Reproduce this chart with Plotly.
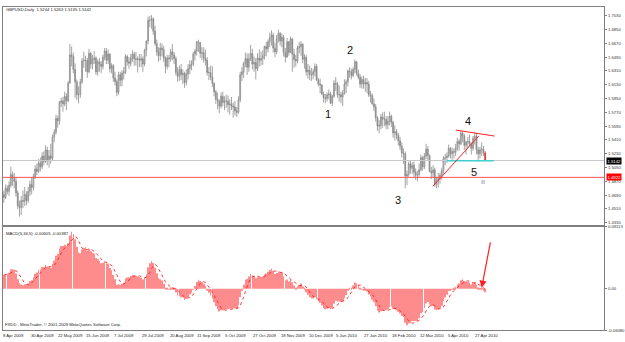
import numpy as np
import plotly.graph_objects as go

# ---------------- data (GBPUSD daily, 8 Apr 2009 .. 4 May 2010) ----------------
first_open = 1.470
highs = [
 1.475,1.483,1.482, 1.487,1.506,1.500,1.498,1.492, 1.475,1.462,1.468,1.475,1.480,
 1.474,1.480,1.488,1.492,1.497, 1.508,1.510,1.516,1.518,1.525, 1.526,1.534,1.532,1.528,1.536,
 1.548,1.555,1.574,1.573,1.592, 1.596,1.597,1.604,1.602,1.618, 1.666,1.663,1.655,1.641,1.620,
 1.611,1.621,1.648,1.656,1.651, 1.648,1.660,1.656,1.652,1.657, 1.650,1.646,1.648,1.644,1.652,
 1.661,1.661,1.659,1.654,1.641, 1.640,1.630,1.620,1.630,1.630, 1.632,1.636,1.653,1.652,1.649,
 1.653,1.658,1.656,1.656,1.650, 1.653,1.653,1.650,1.660,1.671, 1.702,1.703,1.704,1.701,1.690,
 1.672,1.662,1.668,1.667,1.664, 1.650,1.652,1.652,1.660,1.666, 1.656,1.650,1.636,1.638,1.640,
 1.633,1.630,1.633,1.640,1.645, 1.645,1.656,1.660,1.670,1.672, 1.667,1.662,1.662,1.659,1.649,
 1.636,1.638,1.637,1.616,1.606, 1.603,1.594,1.603,1.604,1.598, 1.600,1.599,1.594,1.597,1.590,
 1.592,1.584,1.598,1.630,1.636, 1.643,1.655,1.654,1.654,1.665, 1.660,1.650,1.648,1.654,1.659,
 1.656,1.658,1.664,1.669,1.672, 1.681,1.684,1.681,1.668,1.678, 1.685,1.682,1.680,1.678,1.661,
 1.674,1.670,1.676,1.666,1.660, 1.652,1.664,1.669,1.670,1.667, 1.653,1.652,1.640,1.638,1.635,
 1.634,1.641,1.640,1.622,1.621, 1.613,1.604,1.601,1.603, 1.607,1.604,1.600,1.619,
 1.623,1.617,1.612,1.604,1.606, 1.620,1.620,1.633,1.636,1.634, 1.636,1.646,1.644,1.633,1.627,
 1.624,1.625,1.622,1.622,1.618, 1.605,1.602,1.595,1.588,1.572, 1.567,1.575,1.577,1.578,1.572,
 1.572,1.578,1.574,1.566,1.560, 1.555,1.550,1.545,1.538,1.530, 1.526,1.501,1.513,1.514,1.512,
 1.513,1.504,1.501,1.510,1.522, 1.520,1.524,1.536,1.533,1.522, 1.506,1.508,1.505,1.493,1.498,
 1.498,1.505,1.520,1.523,1.525, 1.535,1.532,1.531,1.530,1.536, 1.544,1.542,1.553,1.552,1.549,
 1.540,1.545,1.548,1.538,1.546, 1.550,1.550,1.532,1.532,1.538, 1.533,1.5263]
lows = [
 1.459,1.464,1.470, 1.468,1.479,1.481,1.478,1.467, 1.451,1.441,1.443,1.452,1.455,
 1.456,1.459,1.468,1.470,1.475, 1.490,1.495,1.498,1.500,1.503, 1.508,1.511,1.508,1.505,1.510,
 1.514,1.538,1.548,1.557,1.561, 1.584,1.578,1.585,1.580,1.590, 1.615,1.637,1.628,1.596,1.593,
 1.589,1.596,1.614,1.635,1.630, 1.622,1.628,1.634,1.633,1.640, 1.626,1.625,1.630,1.628,1.633,
 1.645,1.640,1.640,1.629,1.628, 1.617,1.612,1.598,1.600,1.611, 1.611,1.620,1.627,1.638,1.634,
 1.637,1.643,1.638,1.638,1.629, 1.636,1.636,1.630,1.637,1.650, 1.666,1.688,1.686,1.678,1.664,
 1.651,1.643,1.645,1.650,1.643, 1.628,1.633,1.636,1.643,1.645, 1.640,1.625,1.617,1.618,1.619,
 1.614,1.609,1.612,1.620,1.627, 1.632,1.637,1.645,1.651,1.656, 1.648,1.645,1.642,1.638,1.625,
 1.619,1.619,1.610,1.598,1.588, 1.581,1.576,1.582,1.585,1.580, 1.583,1.577,1.574,1.580,1.570,
 1.573,1.571,1.575,1.590,1.618, 1.622,1.636,1.626,1.630,1.644, 1.633,1.630,1.620,1.631,1.637,
 1.638,1.639,1.646,1.650,1.655, 1.662,1.664,1.655,1.649,1.653, 1.668,1.664,1.662,1.650,1.642,
 1.650,1.651,1.655,1.630,1.635, 1.637,1.641,1.654,1.651,1.641, 1.634,1.625,1.621,1.619,1.618,
 1.620,1.624,1.618,1.611,1.602, 1.600,1.590,1.589,1.591, 1.594,1.588,1.585,1.596,
 1.605,1.596,1.591,1.589,1.585, 1.600,1.602,1.611,1.622,1.620, 1.623,1.628,1.625,1.620,1.609,
 1.608,1.608,1.604,1.602,1.597, 1.590,1.587,1.579,1.565,1.553, 1.550,1.555,1.557,1.559,1.555,
 1.555,1.560,1.558,1.544,1.540, 1.542,1.534,1.528,1.518,1.510, 1.478,1.482,1.493,1.497,1.497,
 1.493,1.489,1.487,1.493,1.500, 1.501,1.503,1.516,1.514,1.499, 1.490,1.492,1.480,1.478,1.479,
 1.484,1.489,1.497,1.508,1.511, 1.518,1.517,1.515,1.517,1.520, 1.527,1.527,1.534,1.538,1.528,
 1.522,1.530,1.533,1.522,1.527, 1.535,1.522,1.513,1.517,1.520, 1.520,1.5135]
closes = [
 1.466,1.478,1.474, 1.482,1.496,1.491,1.487,1.472, 1.455,1.453,1.462,1.461,1.470,
 1.462,1.474,1.483,1.479,1.493, 1.503,1.500,1.511,1.506,1.520, 1.513,1.528,1.514,1.520,1.517,
 1.545,1.551,1.569,1.566,1.590, 1.592,1.588,1.598,1.592,1.615, 1.652,1.650,1.633,1.617,1.600,
 1.600,1.617,1.644,1.645,1.645, 1.630,1.654,1.640,1.646,1.648, 1.630,1.643,1.640,1.637,1.649,
 1.657,1.645,1.653,1.634,1.638, 1.622,1.617,1.603,1.626,1.619, 1.628,1.630,1.650,1.643,1.641,
 1.648,1.653,1.647,1.646,1.647, 1.645,1.647,1.640,1.658,1.670, 1.697,1.697,1.699,1.683,1.667,
 1.656,1.651,1.661,1.659,1.648, 1.637,1.648,1.647,1.656,1.652, 1.647,1.629,1.624,1.633,1.626,
 1.628,1.616,1.627,1.634,1.639, 1.640,1.653,1.657,1.669,1.668, 1.654,1.655,1.648,1.645,1.629,
 1.629,1.623,1.615,1.604,1.594, 1.592,1.585,1.598,1.590,1.592, 1.592,1.587,1.588,1.585,1.584,
 1.579,1.577,1.593,1.626,1.630, 1.641,1.647,1.636,1.647,1.654, 1.640,1.642,1.634,1.648,1.645,
 1.647,1.651,1.663,1.660,1.669, 1.674,1.678,1.661,1.656,1.673, 1.680,1.670,1.675,1.655,1.649,
 1.669,1.655,1.673,1.653,1.646, 1.644,1.661,1.663,1.666,1.646, 1.649,1.630,1.632,1.626,1.626,
 1.630,1.637,1.619,1.614,1.613, 1.601,1.596,1.595,1.600, 1.601,1.589,1.598,1.615,
 1.614,1.600,1.600,1.597,1.602, 1.614,1.617,1.631,1.630,1.625, 1.633,1.643,1.628,1.623,1.614,
 1.620,1.614,1.616,1.614,1.600, 1.599,1.588,1.584,1.570,1.559, 1.560,1.571,1.568,1.568,1.561,
 1.565,1.572,1.564,1.550,1.552, 1.547,1.540,1.533,1.524,1.523, 1.494,1.496,1.510,1.504,1.508,
 1.499,1.495,1.496,1.502,1.518, 1.506,1.520,1.529,1.521,1.500, 1.498,1.502,1.483,1.488,1.491,
 1.495,1.501,1.517,1.518,1.520, 1.530,1.523,1.526,1.525,1.530, 1.539,1.536,1.550,1.546,1.534,
 1.538,1.539,1.536,1.530,1.543, 1.546,1.528,1.523,1.528,1.529, 1.524,1.5142]
# closes before 8 Apr 2009 (only used to warm up the MACD)
pre_closes = [1.478,1.440,1.447,1.447,1.440, 1.433,1.425,1.424,1.432,1.444,
              1.427,1.446,1.438,1.430,1.433, 1.409,1.411,1.418,1.409,1.406,
              1.386,1.382,1.379,1.392,1.405, 1.415,1.398,1.430,1.458,1.453,
              1.464,1.468,1.469,1.465,1.432, 1.423,1.431,1.453,1.480,1.474,
              1.476,1.466]
date_labels = ["8 Apr 2009","30 Apr 2009","22 May 2009","15 Jun 2009","7 Jul 2009",
               "29 Jul 2009","20 Aug 2009","11 Sep 2009","5 Oct 2009","27 Oct 2009",
               "18 Nov 2009","10 Dec 2009","5 Jan 2010","27 Jan 2010","18 Feb 2010",
               "12 Mar 2010","5 Apr 2010","27 Apr 2010"]
price_ticks = [1.7030,1.6850,1.6670,1.6490,1.6310,1.6130,1.5950,1.5770,1.5590,
               1.5410,1.5230,1.5050,1.4870,1.4690,1.4510,1.4330]
current_price = 1.5142
red_level = 1.4922
macd_fast, macd_slow, macd_sig = 5, 34, 5
macd_top, macd_bottom = 0.09113, -0.06080

# ---------------- derived ----------------
n = len(closes)
idx = np.arange(n)
opens = [first_open] + closes[:-1]

allc = np.array(pre_closes + closes)
def ema(a, p):
    k = 2.0 / (p + 1)
    out = np.empty_like(a)
    out[0] = a[0]
    for j in range(1, len(a)):
        out[j] = a[j] * k + out[j - 1] * (1 - k)
    return out
macd_all = ema(allc, macd_fast) - ema(allc, macd_slow)
sig_all = np.convolve(macd_all, np.ones(macd_sig) / macd_sig, mode="full")[:len(macd_all)]
macd = macd_all[len(pre_closes):]
signal = sig_all[len(pre_closes):]

W, H = 625, 342
def px(v): return v / W
def py(v): return 1 - v / H

XL, XR = 3, 607
MAIN_T, MAIN_B = 4, 225
MACD_T, MACD_B = 227, 332
bar_w = 1.746
x_lo = -0.5
x_hi = x_lo + (XR - XL) / bar_w
y_scale = 777.8  # px per price unit
p_top = 1.7030 + (13 - MAIN_T) / y_scale
p_bot = 1.7030 - (MAIN_B - 13) / y_scale

FONT = "Liberation Sans"
axcol = "#7f7f7f"

fig = go.Figure()
fig.add_trace(go.Candlestick(
    x=idx[:-1], open=opens[:-1], high=highs[:-1], low=lows[:-1], close=closes[:-1],
    increasing=dict(line=dict(color="#8c8c8c", width=0.8), fillcolor="#d0d0d0"),
    decreasing=dict(line=dict(color="#8c8c8c", width=0.8), fillcolor="#808080"),
    whiskerwidth=0, xaxis="x", yaxis="y", showlegend=False, hoverinfo="skip"))
fig.add_trace(go.Candlestick(
    x=idx[-1:], open=opens[-1:], high=highs[-1:], low=lows[-1:], close=closes[-1:],
    increasing=dict(line=dict(color="#e03030", width=0.8), fillcolor="#e03030"),
    decreasing=dict(line=dict(color="#e03030", width=0.8), fillcolor="#e03030"),
    whiskerwidth=0, xaxis="x", yaxis="y", showlegend=False, hoverinfo="skip"))

fig.add_trace(go.Bar(x=idx, y=macd, marker=dict(color="#ff8c8c", line=dict(width=0)),
                     width=0.4, xaxis="x2", yaxis="y2", showlegend=False, hoverinfo="skip"))
fig.add_trace(go.Scatter(x=idx, y=signal, mode="lines",
                         line=dict(color="#ff2020", width=0.9, dash="dot"),
                         xaxis="x2", yaxis="y2", showlegend=False, hoverinfo="skip"))

common_x = dict(range=[x_lo, x_hi], showgrid=False, zeroline=False, showticklabels=False,
                showline=True, mirror=True, linecolor=axcol, linewidth=1, ticks="")
fig.update_layout(
    width=W, height=H, margin=dict(l=0, r=0, t=0, b=0),
    paper_bgcolor="white", plot_bgcolor="white",
    font=dict(family=FONT, size=4, color="#333333"),
    xaxis=dict(domain=[px(XL), px(XR)], anchor="y", rangeslider=dict(visible=False), **common_x),
    xaxis2=dict(domain=[px(XL), px(XR)], anchor="y2", **common_x),
    yaxis=dict(domain=[py(MAIN_B), py(MAIN_T)], range=[p_bot, p_top], side="right",
               tickvals=price_ticks, ticktext=[f"{v:.4f}" for v in price_ticks],
               ticks="outside", ticklen=2, tickcolor=axcol, tickfont=dict(size=4.2, color="#333"),
               showgrid=False, zeroline=False, showline=True, mirror=True, linecolor=axcol),
    yaxis2=dict(domain=[py(MACD_B), py(MACD_T)], range=[macd_bottom, macd_top], side="right",
                tickvals=[macd_top, 0, macd_bottom],
                ticktext=[f"{macd_top:.5f}", "0.00", f"{macd_bottom:.5f}"],
                ticks="outside", ticklen=2, tickcolor=axcol, tickfont=dict(size=4.2, color="#333"),
                showgrid=False, zeroline=False, showline=True, mirror=True, linecolor=axcol),
)

shapes = []
# horizontal levels
shapes.append(dict(type="line", xref="paper", yref="y", x0=px(XL), x1=px(XR),
                   y0=current_price, y1=current_price, line=dict(color="#c8c8c8", width=1)))
shapes.append(dict(type="line", xref="paper", yref="y", x0=px(XL), x1=px(XR),
                   y0=red_level, y1=red_level, line=dict(color="#ff5050", width=1)))
# drawn objects
shapes.append(dict(type="line", xref="x", yref="y", x0=254.9, x1=281.9, y0=1.5140, y1=1.5140,
                   line=dict(color="#40d0d0", width=1.5)))
shapes.append(dict(type="line", xref="x", yref="y", x0=246.9, x1=273.3, y0=1.4806, y1=1.5461,
                   line=dict(color="#ff2020", width=1)))
shapes.append(dict(type="line", xref="x", yref="y", x0=260.1, x1=282.4, y0=1.5539, y1=1.5461,
                   line=dict(color="#ff2020", width=1)))
fig.update_layout(shapes=shapes)

ann = []
def small(text, x, y, **kw):
    d = dict(text=text, xref="paper", yref="paper", x=px(x), y=py(y), showarrow=False,
             xanchor="left", yanchor="middle", font=dict(family=FONT, size=4.2, color="#222"))
    d.update(kw)
    ann.append(d)

small("GBPUSD,Daily  1.5244 1.5263 1.5135 1.5142", 4, 7)
small("MACD(5,34,5) -0.00605 -0.00387", 4, 234)
small("FXDD - MetaTrader, © 2001-2009 MetaQuotes Software Corp.", 3, 326)

for k, lab in enumerate(date_labels):
    ann.append(dict(text=lab, xref="x2", yref="paper", x=16 * k, y=py(337), xshift=-3,
                    showarrow=False, xanchor="left", yanchor="middle",
                    font=dict(family=FONT, size=4.2, color="#222")))

# price boxes on the right scale
ann.append(dict(text=f"{current_price:.4f}", xref="paper", yref="y", x=px(609), y=current_price,
                showarrow=False, xanchor="left", yanchor="middle", bgcolor="#000000",
                font=dict(family=FONT, size=4.2, color="white"), borderpad=0.5))
ann.append(dict(text=f"{red_level:.4f}", xref="paper", yref="y", x=px(609), y=red_level,
                showarrow=False, xanchor="left", yanchor="middle", bgcolor="#ff0000",
                font=dict(family=FONT, size=4.2, color="white"), borderpad=0.5))

# wave labels
for t, xi, yp in [("1", 186.8, 1.5744), ("2", 199.4, 1.658), ("3", 226.9, 1.4626),
                  ("4", 267.0, 1.5654), ("5", 270.4, 1.4986)]:
    ann.append(dict(text=t, xref="x", yref="y", x=xi, y=yp, showarrow=False,
                    font=dict(family=FONT, size=11, color="#111")))
ann.append(dict(text="ıı", xref="x", yref="y", x=275.6, y=1.487, showarrow=False,
                font=dict(family=FONT, size=7, color="#6070a0")))

# red arrow in MACD panel
ann.append(dict(text="", xref="paper", yref="paper", x=px(484), y=py(289),
                ax=9, ay=-47, showarrow=True, arrowhead=2, arrowsize=1.2,
                arrowwidth=1.2, arrowcolor="#ff2020"))

fig.update_layout(annotations=ann)
fig.write_html("out.html")
